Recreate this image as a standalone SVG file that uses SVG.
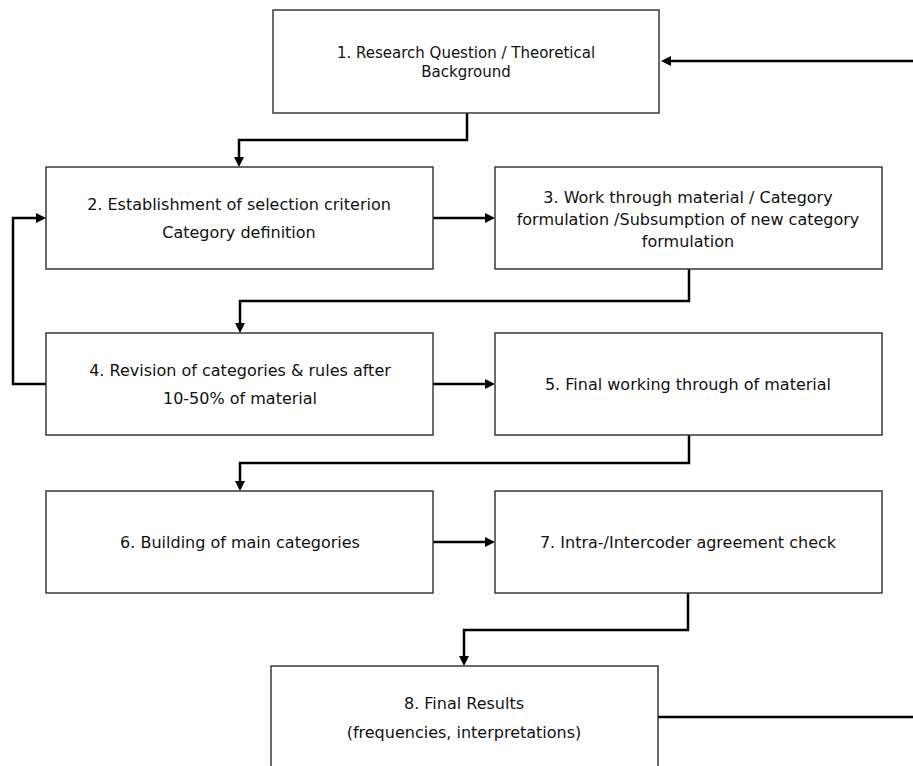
<svg xmlns="http://www.w3.org/2000/svg" width="913" height="766" viewBox="0 0 913 766">
  <style>
    .box { fill: #ffffff; stroke: #3a3a3a; stroke-width: 1.5; }
    .lbl { font-family: "DejaVu Sans", "Liberation Sans", sans-serif; font-size: 16px; fill: #111111; text-anchor: middle; }
    .lbl1 { font-size: 15px; }
    .conn { fill: none; stroke: #000000; stroke-width: 2.5; stroke-linejoin: miter; }
  </style>
  <defs>
    <marker id="arrow" markerUnits="userSpaceOnUse" markerWidth="12" markerHeight="12" refX="2" refY="5" orient="auto">
      <path d="M0,0 L10,5 L0,10 z" fill="#000000"/>
    </marker>
  </defs>

  <rect width="913" height="766" fill="#ffffff"/>

  <!-- connectors -->
  <g id="connectors" class="conn" marker-end="url(#arrow)">
    <path d="M913,61 H669"/>
    <path d="M467,113 V140 H239 V159"/>
    <path d="M433,218 H487"/>
    <path d="M689,269 V301 H240 V325"/>
    <path d="M46,384 H13 V218 H38"/>
    <path d="M433,384 H487"/>
    <path d="M689,435 V463 H240 V483"/>
    <path d="M433,542 H487"/>
    <path d="M688,593 V630 H464 V658"/>
    <path d="M658,717 H913" marker-end="none"/>
  </g>

  <g id="node1">
    <rect class="box" x="273" y="10" width="386" height="103"/>
    <text class="lbl lbl1" x="466" y="58">1. Research Question / Theoretical</text>
    <text class="lbl lbl1" x="466" y="77">Background</text>
  </g>

  <g id="node2">
    <rect class="box" x="46" y="167" width="387" height="102"/>
    <text class="lbl" x="239" y="210">2. Establishment of selection criterion</text>
    <text class="lbl" x="239" y="238">Category definition</text>
  </g>

  <g id="node3">
    <rect class="box" x="495" y="167" width="387" height="102"/>
    <text class="lbl" x="688" y="203">3. Work through material / Category</text>
    <text class="lbl" x="688" y="225">formulation /Subsumption of new category</text>
    <text class="lbl" x="688" y="247">formulation</text>
  </g>

  <g id="node4">
    <rect class="box" x="46" y="333" width="387" height="102"/>
    <text class="lbl" x="240" y="376">4. Revision of categories &amp; rules after</text>
    <text class="lbl" x="240" y="404">10-50% of material</text>
  </g>

  <g id="node5">
    <rect class="box" x="495" y="333" width="387" height="102"/>
    <text class="lbl" x="688" y="390">5. Final working through of material</text>
  </g>

  <g id="node6">
    <rect class="box" x="46" y="491" width="387" height="102"/>
    <text class="lbl" x="240" y="548">6. Building of main categories</text>
  </g>

  <g id="node7">
    <rect class="box" x="495" y="491" width="387" height="102"/>
    <text class="lbl" x="688" y="548">7. Intra-/Intercoder agreement check</text>
  </g>

  <g id="node8">
    <rect class="box" x="271" y="666" width="387" height="102"/>
    <text class="lbl" x="464" y="709">8. Final Results</text>
    <text class="lbl" x="464" y="738">(frequencies, interpretations)</text>
  </g>
</svg>
